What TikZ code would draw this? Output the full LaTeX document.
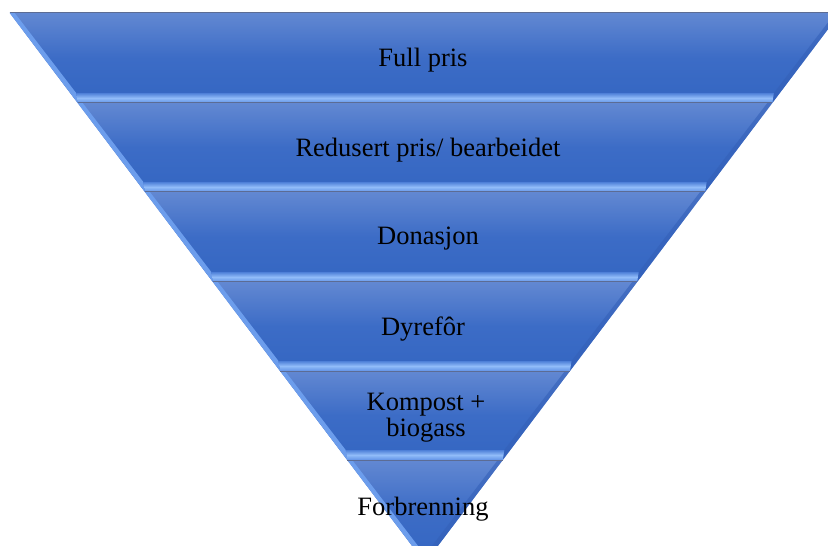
\documentclass[tikz,border=0pt]{standalone}
\usepackage{fontspec}
\setmainfont{Liberation Serif}
\definecolor{bandtop}{RGB}{98,136,210}
\definecolor{bandmid}{RGB}{60,108,198}
\definecolor{bandbot}{RGB}{52,102,194}
\definecolor{bevtop}{RGB}{78,128,216}
\definecolor{bevmid}{RGB}{145,188,249}
\definecolor{bevbot}{RGB}{96,146,230}
\definecolor{bevleft}{RGB}{108,157,236}
\definecolor{bevright}{RGB}{52,96,184}
\definecolor{edgeline}{RGB}{92,108,148}
\tikzset{
  bandfill/.style={top color=bandtop, bottom color=bandbot, middle color=bandmid},
  bevbottom/.style={top color=bevtop, bottom color=bevbot, middle color=bevmid},
  bevl/.style={fill=bevleft},
  bevr/.style={fill=bevright, fill opacity=0.6},
  topedge/.style={draw=edgeline, line width=1bp},
  label/.style={font=\fontsize{26.5bp}{26bp}\selectfont, text=black, inner sep=0pt, anchor=base, align=center}
}
\newcommand\myband[2]{%
  \pgfmathsetmacro\bXlt{425-0.755*(563-#1)}%
  \pgfmathsetmacro\bXrt{425+0.755*(563-#1)}%
  \pgfmathsetmacro\bXlb{425-0.755*(563-#2)}%
  \pgfmathsetmacro\bXrb{425+0.755*(563-#2)}%
  \pgfmathsetmacro\bYh{#2-10}%
  \pgfmathsetmacro\bXlh{425-0.755*(563-\bYh)+6}%
  \pgfmathsetmacro\bXrh{425+0.755*(563-\bYh)-6}%
  \shade[bandfill] (\bXlt,#1) -- (\bXrt,#1) -- (\bXrb,#2) -- (\bXlb,#2) -- cycle;
  \fill[bevl] (\bXlt,#1) -- (\bXlt+5,#1) -- (\bXlh,\bYh) -- (\bXlb,#2) -- cycle;
  \fill[bevr] (\bXrt,#1) -- (\bXrt-5,#1) -- (\bXrh,\bYh) -- (\bXrb,#2) -- cycle;
  \shade[bevbottom] (\bXlb,#2) -- (\bXlh,\bYh) -- (\bXrh,\bYh) -- (\bXrb,#2) -- cycle;
  \draw[topedge] (\bXlt,#1) -- (\bXrt,#1);
}
\begin{document}
\begin{tikzpicture}[x=1bp,y=-1bp]
\useasboundingbox (0,0) rectangle (828,546);
\begin{scope}
  \clip (0,0) rectangle (828,546);
  \myband{13}{103}
  \myband{103}{192}
  \myband{192}{282}
  \myband{282}{371}
  \myband{371}{460}
  \myband{460}{563}
\end{scope}
\node[label] (t1) at (423,67) {Full pris};
\node[label] (t2) at (428,157) {Redusert pris/ bearbeidet};
\node[label] (t3) at (428,245) {Donasjon};
\node[label] (t4) at (423,335) {Dyrefôr};
\node[label] (t5a) at (426,410) {Kompost +};
\node[label] (t5b) at (426,436) {biogass};
\node[label] (t6) at (423,515) {Forbrenning};
\end{tikzpicture}
\end{document}
